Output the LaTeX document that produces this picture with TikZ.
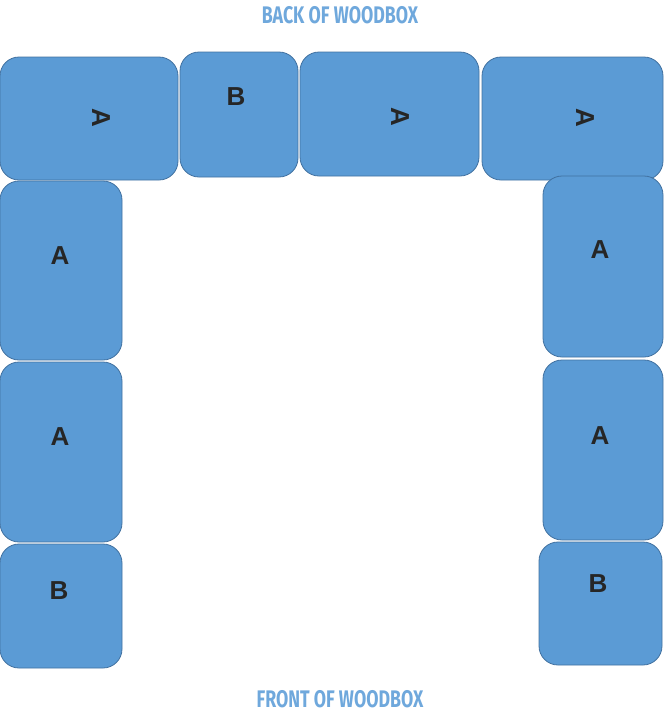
\documentclass[tikz,border=0pt]{standalone}
\usepackage{fontspec}
\setmainfont{Liberation Sans}
\newfontfamily\headfont{Fira Sans}
\definecolor{blockfill}{RGB}{91,155,213}
\definecolor{blockedge}{RGB}{65,113,160}
\definecolor{headblue}{RGB}{111,168,220}
\tikzset{
  woodblock/.style={draw=blockedge, fill=blockfill, line width=0.8pt, rounded corners=19pt},
  letter/.style={font=\bfseries\fontsize{26}{26}\selectfont, text=black!85, inner sep=0pt},
  heading/.style={font=\headfont\bfseries\fontsize{24}{24}\selectfont, text=headblue, xscale=0.74, inner sep=0pt}
}
\begin{document}
\begin{tikzpicture}[x=1pt, y=-1pt]
    \useasboundingbox (0,0) rectangle (665,713);
    % back row
    \draw[woodblock] (0,57) rectangle (178,180);
    \draw[woodblock] (180,52) rectangle (298,177);
    \draw[woodblock] (300,52) rectangle (479,176);
    \draw[woodblock] (482,57) rectangle (663,180);
    % left side
    \draw[woodblock] (0,181) rectangle (122,360);
    \draw[woodblock] (0,362) rectangle (122,542);
    \draw[woodblock] (0,544) rectangle (122,668);
    % right side
    \draw[woodblock] (543,176) rectangle (663,357);
    \draw[woodblock] (543,360) rectangle (663,540);
    \draw[woodblock] (539,542) rectangle (662,665);
    % letters
    \node[letter, rotate=-90] (backA1) at (101,118) {A};
    \node[letter] (backB) at (236,97) {B};
    \node[letter, rotate=-90] (backA2) at (400,117) {A};
    \node[letter, rotate=-90] (backA3) at (585,118) {A};
    \node[letter] (leftA1) at (60,256) {A};
    \node[letter] (leftA2) at (60,437) {A};
    \node[letter] (leftB) at (59,591) {B};
    \node[letter] (rightA1) at (600,250) {A};
    \node[letter] (rightA2) at (600,436) {A};
    \node[letter] (rightB) at (598,584) {B};
    % headings
    \node[heading] (back) at (340,15) {BACK OF WOODBOX};
    \node[heading] (front) at (340,699) {FRONT OF WOODBOX};
\end{tikzpicture}
\end{document}
